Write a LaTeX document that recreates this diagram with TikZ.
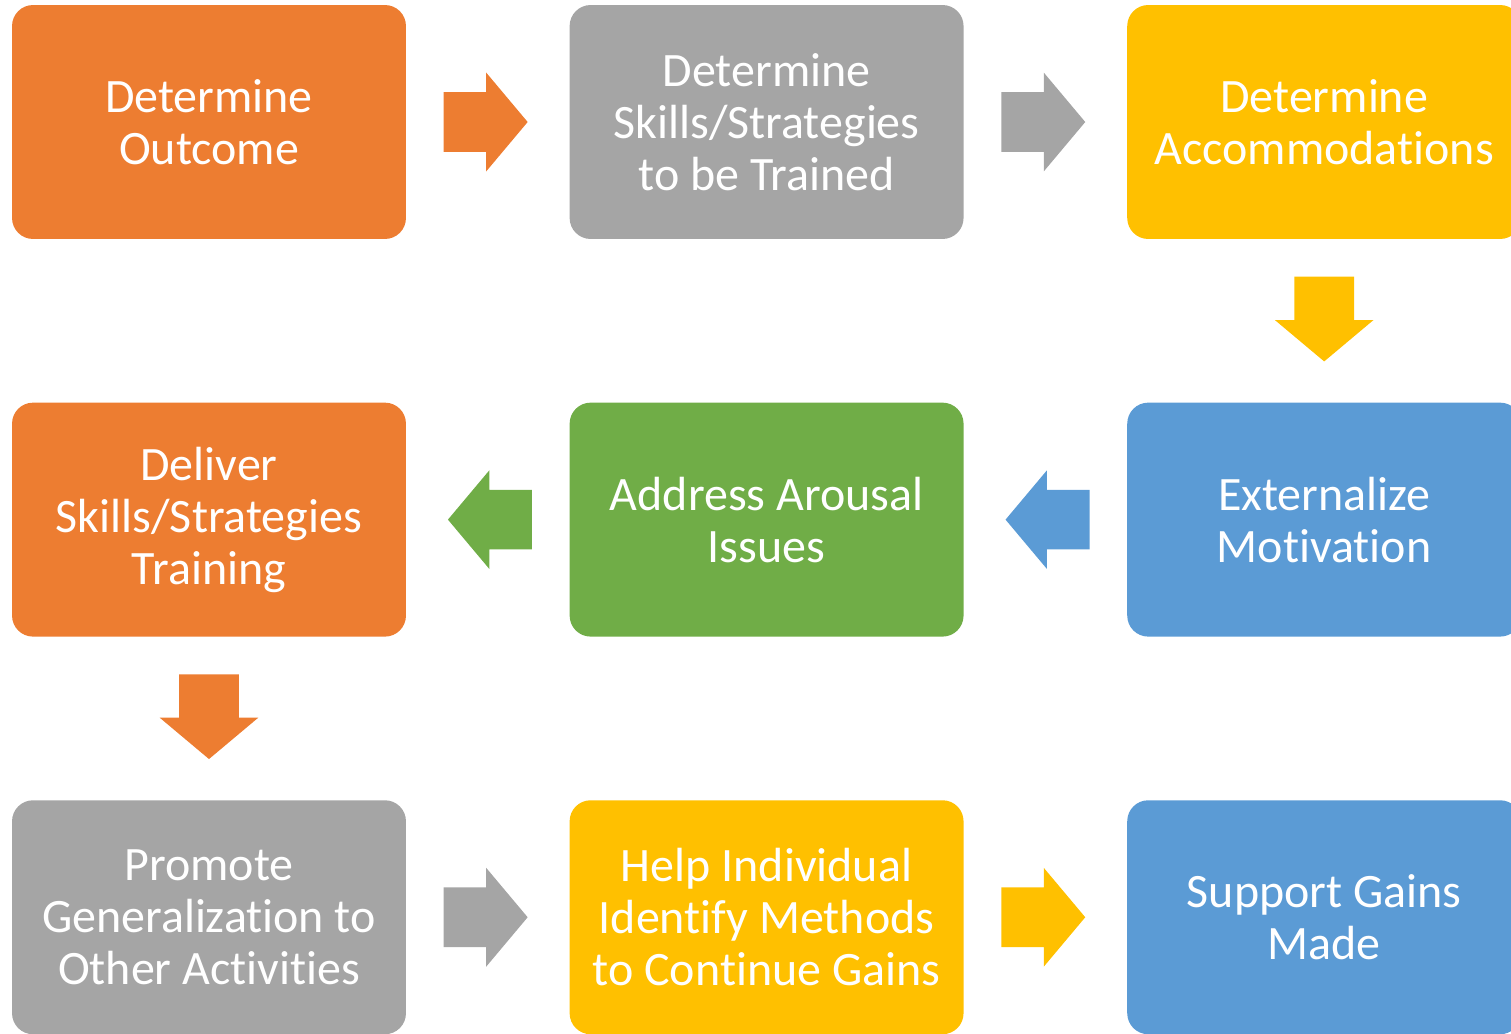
\documentclass[tikz,border=0pt]{standalone}
\usepackage{fontspec}
\setmainfont{Carlito}[Ligatures=NoCommon]
\usepackage{tikz}
\usetikzlibrary{positioning}
\usetikzlibrary{shapes.arrows}
\definecolor{orng}{HTML}{ED7D31}
\definecolor{gry}{HTML}{A5A5A5}
\definecolor{yel}{HTML}{FFC000}
\definecolor{blu}{HTML}{5B9BD5}
\definecolor{grn}{HTML}{70AD47}
\begin{document}
\begin{tikzpicture}[x=0.02cm,y=-0.02cm,
box/.style={rounded corners=0.42cm,minimum width=7.88cm,minimum height=4.68cm,
 inner sep=0,align=center,text=white,font=\fontsize{27.3}{29.6}\selectfont},
arr/.style={single arrow,minimum height=1.68cm,minimum width=1.96cm,inner sep=0,
 text height=1.18cm,text depth=0pt,%shaft width
 single arrow head extend=0.39cm,single arrow head indent=0pt,single arrow tip angle=100},
down/.style={shape border rotate=270,text width=1.18cm},
node distance=3.26cm]
\useasboundingbox (0,0) rectangle (1511,1034);
% row 1
\node[box,fill=orng] (outc) at (209,122) {Determine\\Outcome};
\node[box,fill=gry,right=of outc] (skil) {Determine\\Skills/Strategies\\to be Trained};
\node[box,fill=yel,right=of skil] (acco) {Determine\\Accommodations};
% row 2
\node[box,fill=blu,below=of acco] (extm) {Externalize\\Motivation};
\node[box,fill=grn,left=of extm] (arou) {Address Arousal\\Issues};
\node[box,fill=orng,left=of arou] (deli) {Deliver\\Skills/Strategies\\Training};
% row 3
\node[box,fill=gry,below=of deli] (prom) {Promote\\Generalization to\\Other Activities};
\node[box,fill=yel,right=of prom] (help) {Help Individual\\Identify Methods\\to Continue Gains};
\node[box,fill=blu,right=of help] (supp) {Support Gains\\Made};
% block arrows
\node[arr,fill=orng,right=0.74cm of outc] (a1) {};
\node[arr,fill=gry,right=0.74cm of skil] (a2) {};
\node[arr,fill=yel,down,below=0.74cm of acco] (a3) {};
\node[arr,fill=blu,shape border rotate=180,left=0.74cm of extm] (a4) {};
\node[arr,fill=grn,shape border rotate=180,left=0.74cm of arou] (a5) {};
\node[arr,fill=orng,down,below=0.74cm of deli] (a6) {};
\node[arr,fill=gry,right=0.74cm of prom] (a7) {};
\node[arr,fill=yel,right=0.74cm of help] (a8) {};
\end{tikzpicture}
\end{document}
